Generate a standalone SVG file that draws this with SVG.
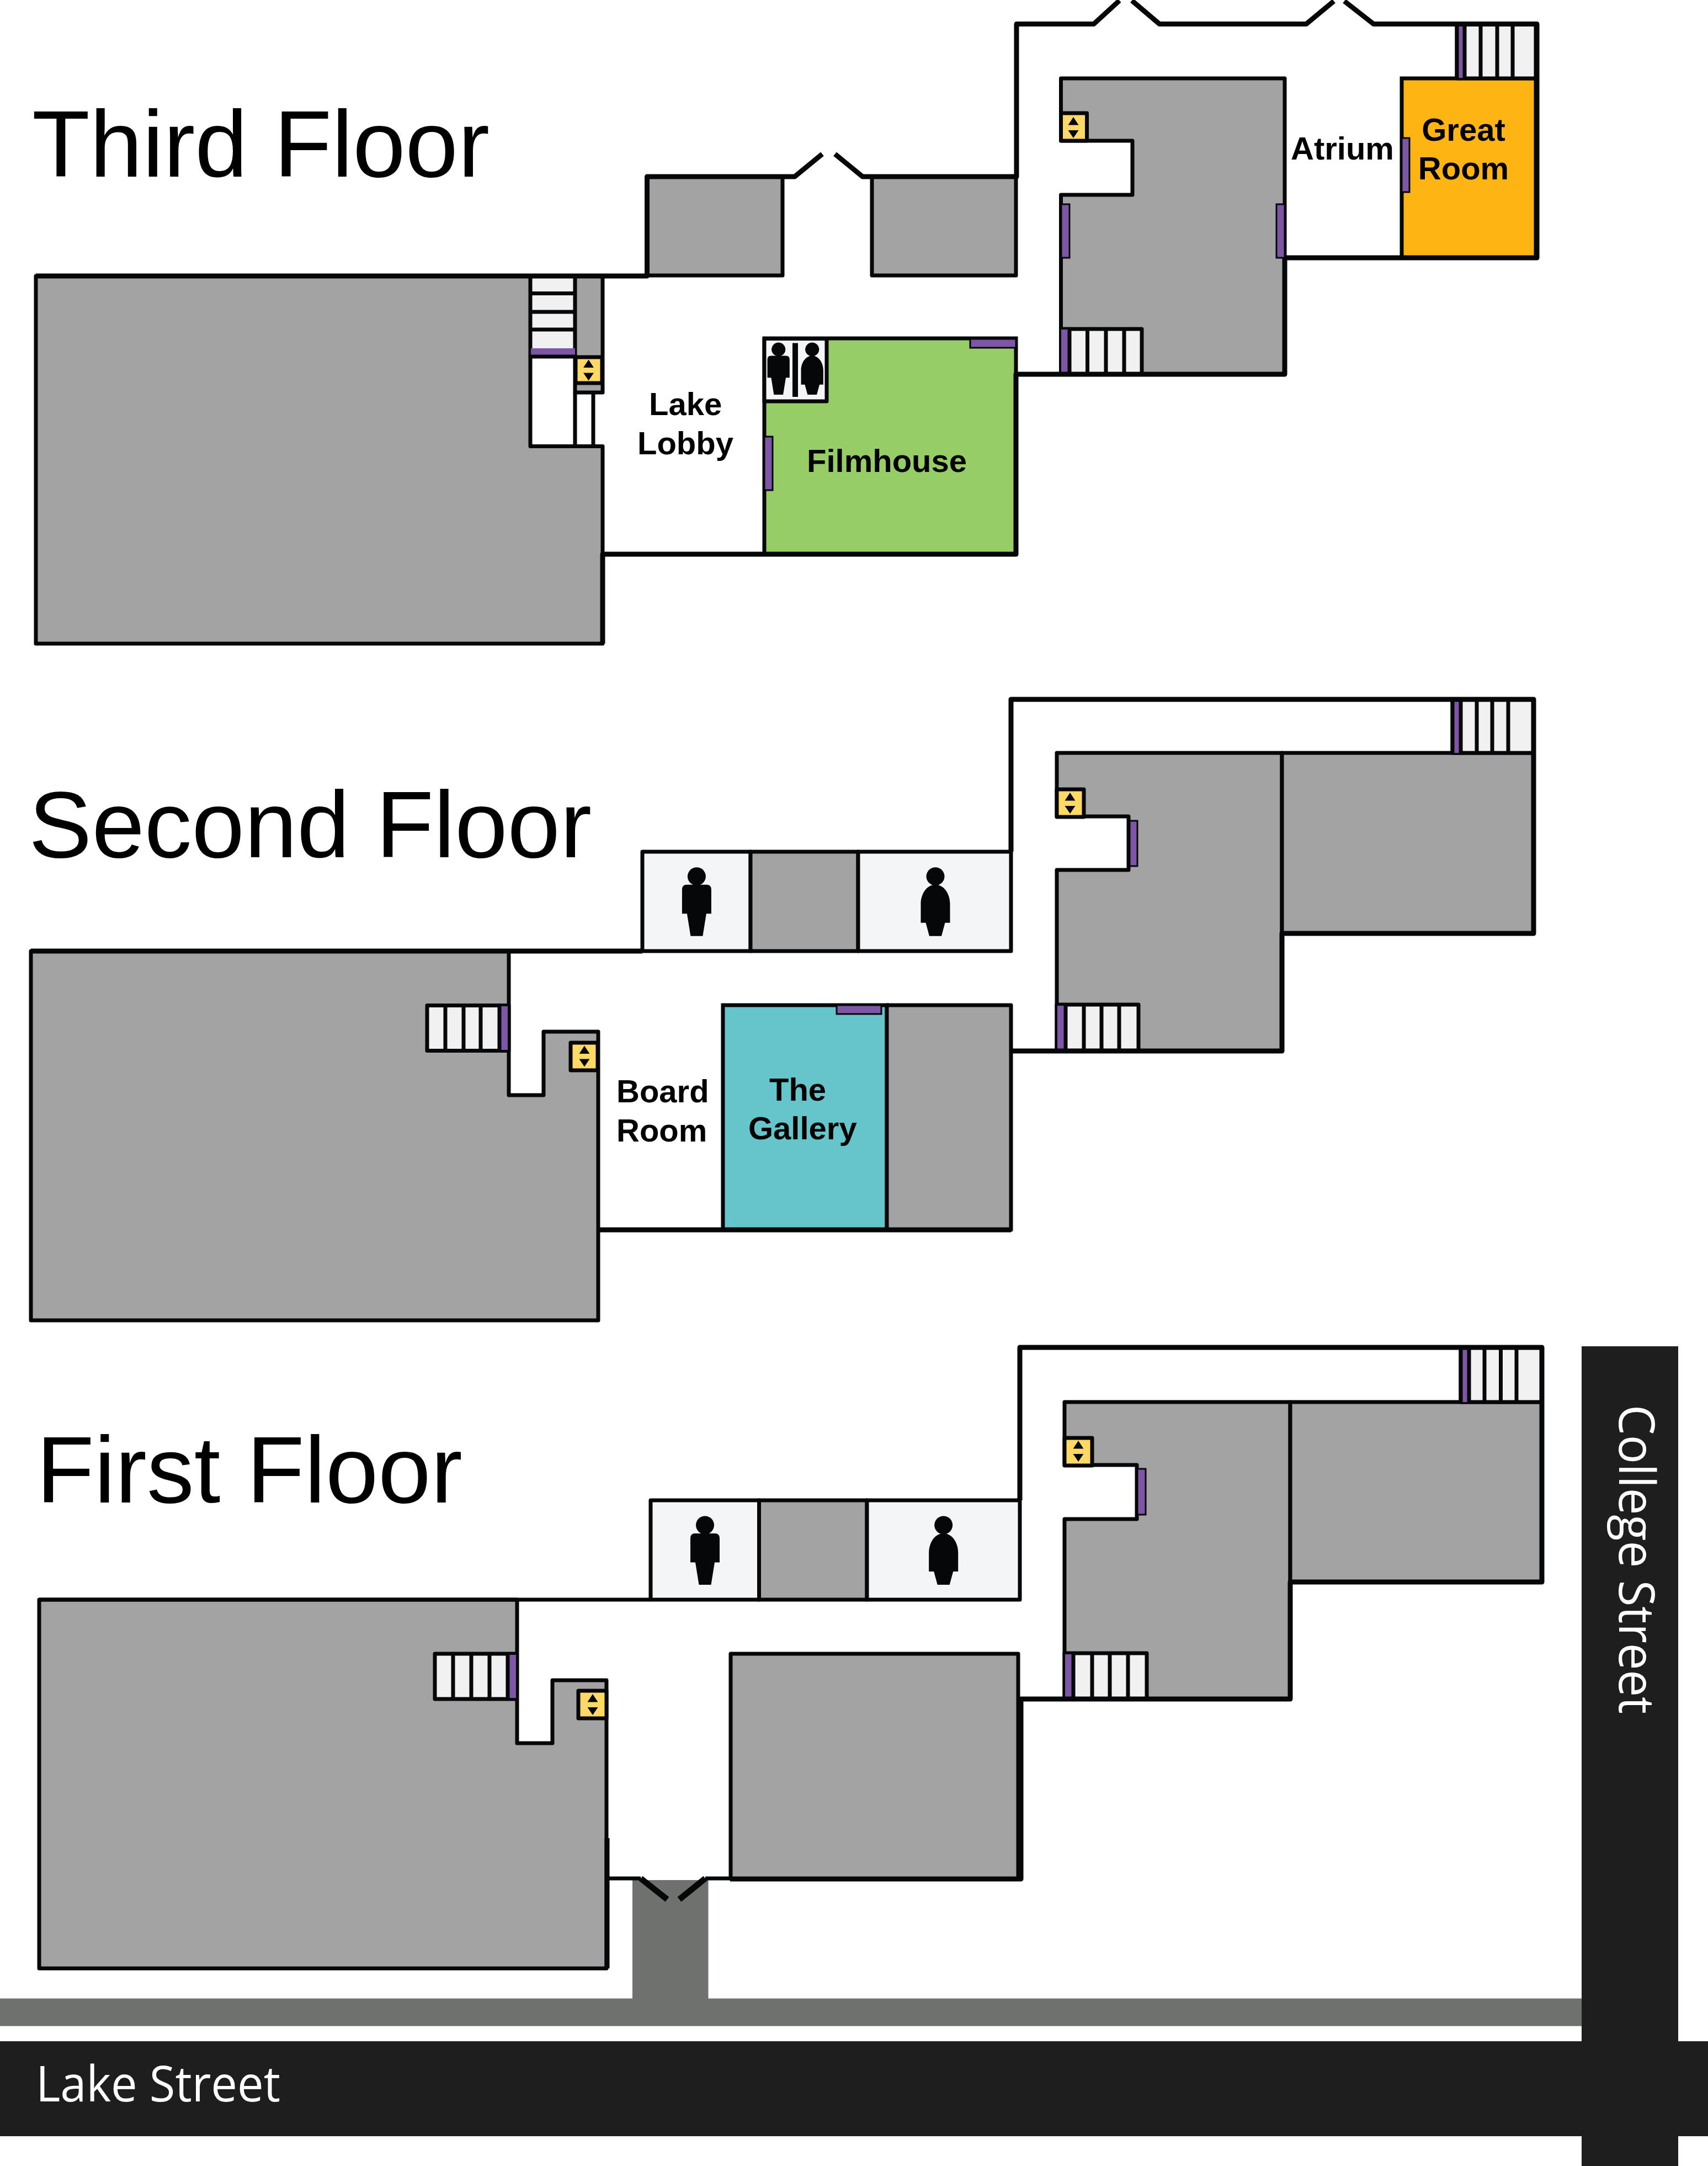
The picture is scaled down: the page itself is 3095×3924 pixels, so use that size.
<svg xmlns="http://www.w3.org/2000/svg" width="3095" height="3924" viewBox="0 0 3095 3924">
<style>
.g{fill:#a3a3a3;stroke:#060708;stroke-width:7;stroke-linejoin:round}
.s{fill:#f1f1f1;stroke:#060708;stroke-width:7;stroke-linejoin:round}
.l{fill:#f4f5f7;stroke:#060708;stroke-width:7;stroke-linejoin:round}
.p{fill:#7d57a5;stroke:#060708;stroke-width:3}
.pn{fill:#7d57a5}
.y{fill:#ffd966;stroke:#060708;stroke-width:7;stroke-linejoin:round}
.w{fill:none;stroke:#060708;stroke-width:9;stroke-linejoin:round;stroke-linecap:butt}
.t{fill:none;stroke:#060708;stroke-width:7}
.title{font-family:"Liberation Sans",Arial,sans-serif;font-size:171.500px;fill:#000}
.lab{font-family:"Liberation Sans",Arial,sans-serif;font-size:58px;font-weight:700;fill:#000}
.st{font-family:"Open Sans",sans-serif;font-size:90px;fill:#fff}
</style>
<defs>
<g id="arrows"><path d="M0,-19 L9.500,-4.500 H-9.500 Z M-9.500,5 H9.500 L0,19 Z" fill="#060708"/></g>
<g id="man" fill="#060708"><circle cx="0" cy="0" r="16.500"/><path d="M-18,15 H18 Q26.500,15 26.500,24 V67.500 H17.500 L11,108 H-11 L-17.500,67.500 H-26.500 V24 Q-26.500,15 -18,15 Z"/></g>
<g id="woman" fill="#060708"><circle cx="0" cy="0" r="16.500"/><path d="M0,15 C16,15 26.500,32 26.500,50 V84 H17.500 L11,108 H-11 L-17.500,84 H-26.500 V50 C-26.500,32 -16,15 0,15 Z"/></g>
</defs>

<g id="streets">
<rect x="1146" y="3406" width="137.500" height="216" fill="#6f716f"/>
<rect x="0" y="3620.500" width="2870" height="50" fill="#6f716f"/>
<rect x="2866" y="2439" width="175" height="1485" fill="#1e1e1e"/>
<rect x="0" y="3698" width="3095" height="172" fill="#1e1e1e"/>
<text class="st" x="65" y="3807" textLength="443" lengthAdjust="spacingAndGlyphs">Lake Street</text>
<text class="st" transform="translate(2934,2545) rotate(90)" textLength="560" lengthAdjust="spacingAndGlyphs">College Street</text>
</g>

<g id="third-floor">
<text class="title" x="58" y="320">Third Floor</text>
<path class="g" d="M65,500 H1092 V711 H1042 V645 H961 V808.500 H1092 V1166 H65 Z"/>
<rect x="961" y="500" width="81" height="145" class="s"/>
<path class="t" d="M961,531.500 H1042 M961,565 H1042 M961,597 H1042 M1042,711 V808.500 M1075,711 V808.500"/>
<rect x="962" y="631" width="80" height="15" class="pn"/>
<path class="t" d="M961,646 H1042"/>
<rect x="1043" y="647" width="48" height="47" class="y"/>
<use href="#arrows" x="1066.500" y="670.500"/>
<rect x="1172.500" y="320" width="245.500" height="179" class="g"/>
<rect x="1580" y="320" width="261" height="179" class="g"/>
<path class="g" d="M1922.500,142 H2328 V678 H1922.500 V353 H2052 V255 H1922.500 Z"/>
<rect x="1922.500" y="205" width="47" height="50" class="y"/>
<use href="#arrows" x="1945" y="231"/>
<rect x="1923" y="370" width="15" height="97" class="p"/>
<rect x="2313" y="370" width="15" height="97" class="p"/>
<rect x="1922.500" y="596" width="146.500" height="82" class="s"/>
<rect x="1923" y="597" width="15" height="80" class="pn"/>
<path class="t" d="M1938,596 V678 M1970.500,596 V678 M2004,596 V678 M2037,596 V678"/>
<g id="filmhouse">
<rect x="1385" y="613" width="456" height="391" fill="#97cd67" stroke="#060708" stroke-width="7"/>
<rect x="1758" y="614" width="83" height="16" class="p"/>
<rect x="1385" y="791" width="15" height="97" class="p"/>
<rect x="1385" y="613.500" width="113" height="113.500" class="l"/>
<use href="#man" transform="translate(1410.700,633) scale(.76)"/>
<use href="#woman" transform="translate(1471.700,633) scale(.76)"/>
<rect x="1436" y="621.500" width="10" height="97.500" fill="#060708"/>
<text class="lab" x="1462" y="855">Filmhouse</text>
</g>
<g id="great-room">
<rect x="2540" y="142" width="243" height="325" fill="#feb514" stroke="#060708" stroke-width="7"/>
<rect x="2540" y="250" width="14" height="98" class="p"/>
<text class="lab" x="2652" y="254.500" text-anchor="middle">Great</text>
<text class="lab" x="2652" y="325" text-anchor="middle">Room</text>
</g>
<rect x="2640" y="43" width="143" height="99" class="s"/>
<rect x="2640" y="44" width="14" height="97" class="pn"/>
<path class="t" d="M2640,43 V142 M2654,43 V142 M2683,43 V142 M2713,43 V142 M2741,43 V142"/>
<path class="w" d="M65,500 H1172.500 V320 H1440 L1490,279 M1513,279 L1563,320 H1842 V43.500 H1982 L2028.500,1 M2051,1 L2101,43.500 H2367 L2417,2 M2436,2 L2489,43.500 H2785 V467 H2328 M2328,467 V678 H1841 V1004 H1092 V1166"/>
<text class="lab" x="1176" y="752">Lake</text>
<text class="lab" x="1155" y="823">Lobby</text>
<text class="lab" x="2339" y="289">Atrium</text>
</g>

<g id="second-floor">
<text class="title" x="52" y="1553">Second Floor</text>
<path class="g" d="M56,1723 H922 V1984 H985 V1869 H1084 V2392 H56 Z"/>
<rect x="774" y="1821.500" width="148" height="82" class="s"/>
<rect x="905" y="1823" width="15" height="79" class="pn"/>
<path class="t" d="M807,1821.500 V1903.500 M840,1821.500 V1903.500 M871,1821.500 V1903.500 M905,1821.500 V1903.500"/>
<rect x="1034" y="1889" width="49" height="50" class="y"/>
<use href="#arrows" x="1059" y="1913.500"/>
<rect x="1164" y="1543" width="196" height="180" class="l"/>
<rect x="1360" y="1543" width="195" height="180" class="g"/>
<rect x="1555" y="1543" width="277" height="180" class="l"/>
<use href="#man" x="1262.400" y="1587.700"/>
<use href="#woman" x="1695" y="1587.700"/>
<g id="gallery">
<rect x="1310" y="1821" width="297" height="407" fill="#65c5cb" stroke="#060708" stroke-width="7"/>
<rect x="1516" y="1821" width="81" height="16" class="p"/>
<text class="lab" x="1394" y="1994">The</text>
<text class="lab" x="1356" y="2064">Gallery</text>
</g>
<rect x="1607" y="1821" width="225" height="407" class="g"/>
<path class="g" d="M1915,1364 H2323 V1904 H1915 V1576 H2045 V1479 H1915 Z"/>
<rect x="1915" y="1430" width="49" height="50" class="y"/>
<use href="#arrows" x="1939" y="1455"/>
<rect x="2047" y="1487" width="14" height="82" class="p"/>
<rect x="1915" y="1820" width="148" height="84" class="s"/>
<rect x="1916" y="1822" width="15" height="81" class="pn"/>
<path class="t" d="M1931,1820 V1904 M1964,1820 V1904 M1996,1820 V1904 M2028,1820 V1904"/>
<rect x="2323" y="1364" width="456" height="327" class="g"/>
<rect x="2632" y="1267" width="147" height="97" class="s"/>
<rect x="2632" y="1268" width="15" height="96" class="pn"/>
<path class="t" d="M2632,1267 V1364 M2647,1267 V1364 M2676,1267 V1364 M2704,1267 V1364 M2733,1267 V1364"/>
<path class="w" d="M56,1723 H1164 M1832,1543 V1267 H2779 V1691 H2323 V1904 H1832 M1084,2228 H1832"/>
<text class="lab" x="1117" y="1996.500">Board</text>
<text class="lab" x="1117" y="2068">Room</text>
</g>

<g id="first-floor">
<text class="title" x="66" y="2722">First Floor</text>
<path class="g" d="M71,2898 H937 V3158 H1001 V3044 H1099 V3566 H71 Z"/>
<rect x="788" y="2996" width="148" height="82" class="s"/>
<rect x="920" y="2998" width="15" height="78" class="pn"/>
<path class="t" d="M821,2996 V3078 M854,2996 V3078 M887,2996 V3078 M920,2996 V3078"/>
<rect x="1048" y="3063" width="51" height="50" class="y"/>
<use href="#arrows" x="1074" y="3088"/>
<rect x="1179" y="2718" width="196.500" height="180" class="l"/>
<rect x="1375.500" y="2718" width="195.500" height="180" class="g"/>
<rect x="1571" y="2718" width="277" height="180" class="l"/>
<use href="#man" x="1277.500" y="2763"/>
<use href="#woman" x="1709.700" y="2763"/>
<rect x="1324" y="2996" width="521" height="407.500" class="g"/>
<path class="g" d="M1929,2540 H2338 V3078 H1929 V2752 H2060 V2654 H1929 Z"/>
<rect x="1929" y="2605" width="50" height="50" class="y"/>
<use href="#arrows" x="1954" y="2629"/>
<rect x="2061" y="2661" width="15" height="83" class="p"/>
<rect x="1929" y="2995" width="149" height="83" class="s"/>
<rect x="1930" y="2997" width="15" height="80" class="pn"/>
<path class="t" d="M1945,2995 V3078 M1979,2995 V3078 M2011,2995 V3078 M2044,2995 V3078"/>
<rect x="2338" y="2540" width="456" height="326" class="g"/>
<rect x="2647" y="2441" width="147" height="99" class="s"/>
<rect x="2647" y="2442" width="15" height="98" class="pn"/>
<path class="t" d="M2647,2441 V2540 M2662,2441 V2540 M2690,2441 V2540 M2719.500,2441 V2540 M2748,2441 V2540"/>
<path class="w" d="M1848,2718 V2441 H2794 V2866 H2338 V3078 H1850 V3404 H1323 M1100,3330 V3566"/>
<path class="t" d="M71,2898 H1179 M1100,3403 H1161 M1278,3403 H1323"/>
<path class="w" style="stroke-width:11" d="M1161,3403 L1209,3441 M1231,3441 L1278,3403"/>
</g>
</svg>
